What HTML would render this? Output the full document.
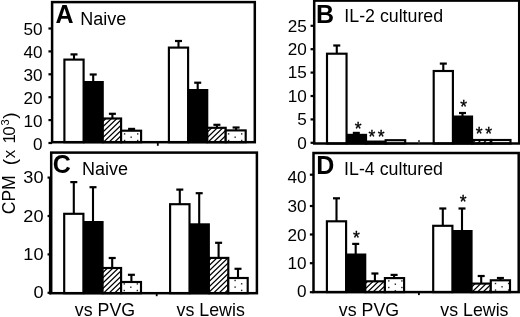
<!DOCTYPE html>
<html><head><meta charset="utf-8"><title>Figure</title>
<style>html,body{margin:0;padding:0;background:#fff;}body{width:520px;height:317px;overflow:hidden;font-family:"Liberation Sans", sans-serif;}svg{display:block;}</style>
</head><body>
<svg width="520" height="317" viewBox="0 0 520 317" font-family='"Liberation Sans", sans-serif' fill="#000">
<rect x="0.00" y="0.00" width="520.00" height="317.00" fill="#fff" />
<rect x="72.95" y="54.40" width="2.10" height="5.20" fill="#000" />
<rect x="70.50" y="53.30" width="7.00" height="2.20" fill="#000" />
<rect x="92.15" y="74.50" width="2.10" height="7.50" fill="#000" />
<rect x="89.70" y="73.40" width="7.00" height="2.20" fill="#000" />
<rect x="111.35" y="113.80" width="2.10" height="4.70" fill="#000" />
<rect x="108.90" y="112.70" width="7.00" height="2.20" fill="#000" />
<rect x="130.55" y="128.90" width="2.10" height="1.80" fill="#000" />
<rect x="128.10" y="127.80" width="7.00" height="2.20" fill="#000" />
<rect x="64.40" y="59.60" width="19.20" height="82.60" fill="#fff" stroke="#000" stroke-width="2.15"/>
<rect x="83.20" y="81.00" width="20.60" height="62.20" fill="#000"/>
<rect x="102.80" y="118.50" width="18.30" height="23.70" fill="#fff"/>
<clipPath id="c1"><rect x="102.80" y="118.50" width="18.30" height="23.70"/></clipPath>
<path d="M69.40 143.20L96.01 117.50M74.90 143.20L101.51 117.50M80.40 143.20L107.01 117.50M85.90 143.20L112.51 117.50M91.40 143.20L118.01 117.50M96.90 143.20L123.51 117.50M102.40 143.20L129.01 117.50M107.90 143.20L134.51 117.50M113.40 143.20L140.01 117.50M118.90 143.20L145.51 117.50" stroke="#000" stroke-width="1.25" fill="none" clip-path="url(#c1)"/>
<rect x="102.80" y="118.50" width="18.30" height="23.70" fill="none" stroke="#000" stroke-width="2.15"/>
<rect x="121.10" y="130.70" width="20.00" height="11.50" fill="#fff"/>
<rect x="123.90" y="133.20" width="1.4" height="1.4" fill="#222"/>
<rect x="123.90" y="139.80" width="1.4" height="1.4" fill="#222"/>
<rect x="137.00" y="133.20" width="1.4" height="1.4" fill="#222"/>
<rect x="137.00" y="139.80" width="1.4" height="1.4" fill="#222"/>
<rect x="130.45" y="136.50" width="1.4" height="1.4" fill="#222"/>
<rect x="121.10" y="130.70" width="20.00" height="11.50" fill="none" stroke="#000" stroke-width="2.15"/>
<rect x="177.45" y="41.00" width="2.10" height="6.60" fill="#000" />
<rect x="175.00" y="39.90" width="7.00" height="2.20" fill="#000" />
<rect x="196.65" y="82.70" width="2.10" height="7.30" fill="#000" />
<rect x="194.20" y="81.60" width="7.00" height="2.20" fill="#000" />
<rect x="215.85" y="124.80" width="2.10" height="3.00" fill="#000" />
<rect x="213.40" y="123.70" width="7.00" height="2.20" fill="#000" />
<rect x="235.05" y="127.50" width="2.10" height="2.90" fill="#000" />
<rect x="232.60" y="126.40" width="7.00" height="2.20" fill="#000" />
<rect x="168.90" y="47.60" width="19.20" height="94.60" fill="#fff" stroke="#000" stroke-width="2.15"/>
<rect x="187.70" y="89.00" width="20.60" height="54.20" fill="#000"/>
<rect x="207.30" y="127.80" width="18.40" height="14.40" fill="#fff"/>
<clipPath id="c2"><rect x="207.30" y="127.80" width="18.40" height="14.40"/></clipPath>
<path d="M179.40 143.20L196.38 126.80M184.90 143.20L201.88 126.80M190.40 143.20L207.38 126.80M195.90 143.20L212.88 126.80M201.40 143.20L218.38 126.80M206.90 143.20L223.88 126.80M212.40 143.20L229.38 126.80M217.90 143.20L234.88 126.80M223.40 143.20L240.38 126.80" stroke="#000" stroke-width="1.25" fill="none" clip-path="url(#c2)"/>
<rect x="207.30" y="127.80" width="18.40" height="14.40" fill="none" stroke="#000" stroke-width="2.15"/>
<rect x="225.70" y="130.40" width="20.00" height="11.80" fill="#fff"/>
<rect x="227.90" y="133.20" width="1.4" height="1.4" fill="#222"/>
<rect x="227.90" y="139.80" width="1.4" height="1.4" fill="#222"/>
<rect x="241.00" y="133.20" width="1.4" height="1.4" fill="#222"/>
<rect x="241.00" y="139.80" width="1.4" height="1.4" fill="#222"/>
<rect x="234.45" y="136.50" width="1.4" height="1.4" fill="#222"/>
<rect x="225.70" y="130.40" width="20.00" height="11.80" fill="none" stroke="#000" stroke-width="2.15"/>
<rect x="52.10" y="2.10" width="202.70" height="140.10" fill="none" stroke="#000" stroke-width="2.5"/>
<rect x="48.45" y="141.90" width="3.65" height="2.20" fill="#000" />
<text transform="translate(42.50,149.50) scale(1.04,1)" font-size="16.5" text-anchor="end">0</text>
<rect x="48.45" y="119.00" width="3.65" height="2.20" fill="#000" />
<text transform="translate(42.50,126.60) scale(1.04,1)" font-size="16.5" text-anchor="end">10</text>
<rect x="48.45" y="96.10" width="3.65" height="2.20" fill="#000" />
<text transform="translate(42.50,103.70) scale(1.04,1)" font-size="16.5" text-anchor="end">20</text>
<rect x="48.45" y="73.20" width="3.65" height="2.20" fill="#000" />
<text transform="translate(42.50,80.80) scale(1.04,1)" font-size="16.5" text-anchor="end">30</text>
<rect x="48.45" y="50.30" width="3.65" height="2.20" fill="#000" />
<text transform="translate(42.50,57.90) scale(1.04,1)" font-size="16.5" text-anchor="end">40</text>
<rect x="48.45" y="27.40" width="3.65" height="2.20" fill="#000" />
<text transform="translate(42.50,35.00) scale(1.04,1)" font-size="16.5" text-anchor="end">50</text>
<rect x="156.90" y="142.20" width="1.80" height="3.60" fill="#000" />
<text x="55.50" y="23.20" font-size="25" text-anchor="start" font-weight="bold" >A</text>
<text x="80.30" y="24.70" font-size="18" text-anchor="start" font-weight="normal" >Naive</text>
<rect x="72.75" y="182.10" width="2.10" height="31.70" fill="#000" />
<rect x="70.30" y="181.00" width="7.00" height="2.20" fill="#000" />
<rect x="91.95" y="187.20" width="2.10" height="34.80" fill="#000" />
<rect x="89.50" y="186.10" width="7.00" height="2.20" fill="#000" />
<rect x="111.15" y="258.00" width="2.10" height="10.00" fill="#000" />
<rect x="108.70" y="256.90" width="7.00" height="2.20" fill="#000" />
<rect x="130.35" y="274.80" width="2.10" height="7.20" fill="#000" />
<rect x="127.90" y="273.70" width="7.00" height="2.20" fill="#000" />
<rect x="64.20" y="213.80" width="19.20" height="79.40" fill="#fff" stroke="#000" stroke-width="2.15"/>
<rect x="83.00" y="221.00" width="20.60" height="73.20" fill="#000"/>
<rect x="102.60" y="268.00" width="18.50" height="25.20" fill="#fff"/>
<clipPath id="c3"><rect x="102.60" y="268.00" width="18.50" height="25.20"/></clipPath>
<path d="M63.90 294.20L92.07 267.00M69.40 294.20L97.57 267.00M74.90 294.20L103.07 267.00M80.40 294.20L108.57 267.00M85.90 294.20L114.07 267.00M91.40 294.20L119.57 267.00M96.90 294.20L125.07 267.00M102.40 294.20L130.57 267.00M107.90 294.20L136.07 267.00M113.40 294.20L141.57 267.00M118.90 294.20L147.07 267.00" stroke="#000" stroke-width="1.25" fill="none" clip-path="url(#c3)"/>
<rect x="102.60" y="268.00" width="18.50" height="25.20" fill="none" stroke="#000" stroke-width="2.15"/>
<rect x="121.10" y="282.00" width="19.90" height="11.20" fill="#fff"/>
<rect x="130.10" y="286.50" width="1.4" height="1.4" fill="#222"/>
<rect x="123.55" y="283.20" width="1.4" height="1.4" fill="#222"/>
<rect x="123.55" y="289.80" width="1.4" height="1.4" fill="#222"/>
<rect x="136.65" y="283.20" width="1.4" height="1.4" fill="#222"/>
<rect x="136.65" y="289.80" width="1.4" height="1.4" fill="#222"/>
<rect x="121.10" y="282.00" width="19.90" height="11.20" fill="none" stroke="#000" stroke-width="2.15"/>
<rect x="178.75" y="189.60" width="2.10" height="14.60" fill="#000" />
<rect x="176.30" y="188.50" width="7.00" height="2.20" fill="#000" />
<rect x="198.15" y="193.20" width="2.10" height="31.10" fill="#000" />
<rect x="195.70" y="192.10" width="7.00" height="2.20" fill="#000" />
<rect x="217.55" y="242.80" width="2.10" height="15.10" fill="#000" />
<rect x="215.10" y="241.70" width="7.00" height="2.20" fill="#000" />
<rect x="236.95" y="268.80" width="2.10" height="9.20" fill="#000" />
<rect x="234.50" y="267.70" width="7.00" height="2.20" fill="#000" />
<rect x="170.10" y="204.20" width="19.40" height="89.00" fill="#fff" stroke="#000" stroke-width="2.15"/>
<rect x="189.10" y="223.30" width="20.80" height="70.90" fill="#000"/>
<rect x="208.90" y="257.90" width="19.40" height="35.30" fill="#fff"/>
<clipPath id="c4"><rect x="208.90" y="257.90" width="19.40" height="35.30"/></clipPath>
<path d="M162.90 294.20L201.53 256.90M168.40 294.20L207.03 256.90M173.90 294.20L212.53 256.90M179.40 294.20L218.03 256.90M184.90 294.20L223.53 256.90M190.40 294.20L229.03 256.90M195.90 294.20L234.53 256.90M201.40 294.20L240.03 256.90M206.90 294.20L245.53 256.90M212.40 294.20L251.03 256.90M217.90 294.20L256.53 256.90M223.40 294.20L262.03 256.90M228.90 294.20L267.53 256.90" stroke="#000" stroke-width="1.25" fill="none" clip-path="url(#c4)"/>
<rect x="208.90" y="257.90" width="19.40" height="35.30" fill="none" stroke="#000" stroke-width="2.15"/>
<rect x="228.30" y="278.00" width="19.40" height="15.20" fill="#fff"/>
<rect x="234.40" y="279.80" width="1.4" height="1.4" fill="#222"/>
<rect x="234.40" y="286.40" width="1.4" height="1.4" fill="#222"/>
<rect x="240.95" y="283.10" width="1.4" height="1.4" fill="#222"/>
<rect x="240.95" y="289.70" width="1.4" height="1.4" fill="#222"/>
<rect x="228.30" y="278.00" width="19.40" height="15.20" fill="none" stroke="#000" stroke-width="2.15"/>
<rect x="51.20" y="152.60" width="205.70" height="140.60" fill="none" stroke="#000" stroke-width="2.5"/>
<rect x="47.55" y="291.70" width="3.65" height="2.20" fill="#000" />
<text transform="translate(43.50,298.40) scale(1.1,1)" font-size="16.5" text-anchor="end">0</text>
<rect x="47.55" y="253.30" width="3.65" height="2.20" fill="#000" />
<text transform="translate(43.50,260.00) scale(1.1,1)" font-size="16.5" text-anchor="end">10</text>
<rect x="47.55" y="214.90" width="3.65" height="2.20" fill="#000" />
<text transform="translate(43.50,221.60) scale(1.1,1)" font-size="16.5" text-anchor="end">20</text>
<rect x="47.55" y="176.50" width="3.65" height="2.20" fill="#000" />
<text transform="translate(43.50,183.20) scale(1.1,1)" font-size="16.5" text-anchor="end">30</text>
<rect x="48.90" y="177.00" width="2.30" height="117.45" fill="#000" />
<rect x="155.80" y="293.20" width="1.80" height="3.00" fill="#000" />
<text x="52.70" y="172.80" font-size="25" text-anchor="start" font-weight="bold" >C</text>
<text x="82.00" y="174.60" font-size="18" text-anchor="start" font-weight="normal" >Naive</text>
<rect x="335.72" y="45.50" width="2.10" height="8.20" fill="#000" />
<rect x="333.27" y="44.40" width="7.00" height="2.20" fill="#000" />
<rect x="355.27" y="132.90" width="2.10" height="1.90" fill="#000" />
<rect x="352.82" y="131.80" width="7.00" height="2.20" fill="#000" />
<rect x="327.00" y="53.70" width="19.55" height="89.80" fill="#fff" stroke="#000" stroke-width="2.15"/>
<rect x="346.15" y="133.80" width="20.95" height="10.70" fill="#000"/>
<rect x="366.10" y="141.60" width="19.55" height="1.90" fill="#fff"/>
<clipPath id="c5"><rect x="366.10" y="141.60" width="19.55" height="1.90"/></clipPath>
<path d="M355.40 144.50L359.44 140.60M360.90 144.50L364.94 140.60M366.40 144.50L370.44 140.60M371.90 144.50L375.94 140.60M377.40 144.50L381.44 140.60M382.90 144.50L386.94 140.60" stroke="#000" stroke-width="1.25" fill="none" clip-path="url(#c5)"/>
<rect x="366.10" y="141.60" width="19.55" height="1.90" fill="none" stroke="#000" stroke-width="2.15"/>
<rect x="385.65" y="140.20" width="19.55" height="3.30" fill="#fff"/>
<rect x="385.65" y="140.20" width="19.55" height="3.30" fill="none" stroke="#000" stroke-width="2.15"/>
<rect x="442.25" y="63.60" width="2.10" height="7.40" fill="#000" />
<rect x="439.80" y="62.50" width="7.00" height="2.20" fill="#000" />
<rect x="461.45" y="113.00" width="2.10" height="3.50" fill="#000" />
<rect x="459.00" y="111.90" width="7.00" height="2.20" fill="#000" />
<rect x="433.70" y="71.00" width="19.20" height="72.50" fill="#fff" stroke="#000" stroke-width="2.15"/>
<rect x="452.50" y="115.50" width="20.60" height="29.00" fill="#000"/>
<rect x="472.10" y="140.00" width="19.20" height="3.50" fill="#fff"/>
<clipPath id="c6"><rect x="472.10" y="140.00" width="19.20" height="3.50"/></clipPath>
<path d="M459.90 144.50L465.60 139.00M465.40 144.50L471.10 139.00M470.90 144.50L476.60 139.00M476.40 144.50L482.10 139.00M481.90 144.50L487.60 139.00M487.40 144.50L493.10 139.00" stroke="#000" stroke-width="1.25" fill="none" clip-path="url(#c6)"/>
<rect x="472.10" y="140.00" width="19.20" height="3.50" fill="none" stroke="#000" stroke-width="2.15"/>
<rect x="491.30" y="140.00" width="19.20" height="3.50" fill="#fff"/>
<rect x="491.30" y="140.00" width="19.20" height="3.50" fill="none" stroke="#000" stroke-width="2.15"/>
<rect x="314.20" y="0.60" width="205.00" height="142.90" fill="none" stroke="#000" stroke-width="2.5"/>
<rect x="310.55" y="141.70" width="3.65" height="2.20" fill="#000" />
<text transform="translate(306.90,148.60) scale(1.04,1)" font-size="16.5" text-anchor="end">0</text>
<rect x="310.55" y="118.30" width="3.65" height="2.20" fill="#000" />
<text transform="translate(306.90,125.20) scale(1.04,1)" font-size="16.5" text-anchor="end">5</text>
<rect x="310.55" y="94.90" width="3.65" height="2.20" fill="#000" />
<text transform="translate(306.90,101.80) scale(1.04,1)" font-size="16.5" text-anchor="end">10</text>
<rect x="310.55" y="71.50" width="3.65" height="2.20" fill="#000" />
<text transform="translate(306.90,78.40) scale(1.04,1)" font-size="16.5" text-anchor="end">15</text>
<rect x="310.55" y="48.10" width="3.65" height="2.20" fill="#000" />
<text transform="translate(306.90,55.00) scale(1.04,1)" font-size="16.5" text-anchor="end">20</text>
<rect x="310.55" y="24.70" width="3.65" height="2.20" fill="#000" />
<text transform="translate(306.90,31.60) scale(1.04,1)" font-size="16.5" text-anchor="end">25</text>
<rect x="418.10" y="140.10" width="1.80" height="3.40" fill="#444" />
<text x="316.10" y="22.50" font-size="25" text-anchor="start" font-weight="bold" >B</text>
<text x="344.30" y="22.20" font-size="17.8" text-anchor="start" font-weight="normal" >IL-2 cultured</text>
<text x="358.20" y="135.00" font-size="17.5" text-anchor="middle" font-weight="normal" stroke="#000" stroke-width="0.35">*</text>
<text x="372.00" y="143.10" font-size="17.5" text-anchor="middle" font-weight="normal" stroke="#000" stroke-width="0.35">*</text>
<text x="381.10" y="143.10" font-size="17.5" text-anchor="middle" font-weight="normal" stroke="#000" stroke-width="0.35">*</text>
<text x="463.70" y="112.90" font-size="17.5" text-anchor="middle" font-weight="normal" stroke="#000" stroke-width="0.35">*</text>
<text x="479.10" y="139.90" font-size="17.5" text-anchor="middle" font-weight="normal" stroke="#000" stroke-width="0.35">*</text>
<text x="488.60" y="139.90" font-size="17.5" text-anchor="middle" font-weight="normal" stroke="#000" stroke-width="0.35">*</text>
<rect x="335.45" y="198.30" width="2.10" height="23.00" fill="#000" />
<rect x="333.00" y="197.20" width="7.00" height="2.20" fill="#000" />
<rect x="354.65" y="243.90" width="2.10" height="10.60" fill="#000" />
<rect x="352.20" y="242.80" width="7.00" height="2.20" fill="#000" />
<rect x="373.85" y="273.50" width="2.10" height="7.80" fill="#000" />
<rect x="371.40" y="272.40" width="7.00" height="2.20" fill="#000" />
<rect x="393.05" y="274.90" width="2.10" height="3.20" fill="#000" />
<rect x="390.60" y="273.80" width="7.00" height="2.20" fill="#000" />
<rect x="326.90" y="221.30" width="19.20" height="70.80" fill="#fff" stroke="#000" stroke-width="2.15"/>
<rect x="345.70" y="253.50" width="20.60" height="39.60" fill="#000"/>
<rect x="365.30" y="281.30" width="19.60" height="10.80" fill="#fff"/>
<clipPath id="c7"><rect x="365.30" y="281.30" width="19.60" height="10.80"/></clipPath>
<path d="M344.40 293.10L357.65 280.30M349.90 293.10L363.15 280.30M355.40 293.10L368.65 280.30M360.90 293.10L374.15 280.30M366.40 293.10L379.65 280.30M371.90 293.10L385.15 280.30M377.40 293.10L390.65 280.30M382.90 293.10L396.15 280.30" stroke="#000" stroke-width="1.25" fill="none" clip-path="url(#c7)"/>
<rect x="365.30" y="281.30" width="19.60" height="10.80" fill="none" stroke="#000" stroke-width="2.15"/>
<rect x="384.90" y="278.10" width="19.20" height="14.00" fill="#fff"/>
<rect x="388.10" y="280.20" width="1.4" height="1.4" fill="#222"/>
<rect x="388.10" y="286.80" width="1.4" height="1.4" fill="#222"/>
<rect x="401.20" y="280.20" width="1.4" height="1.4" fill="#222"/>
<rect x="401.20" y="286.80" width="1.4" height="1.4" fill="#222"/>
<rect x="394.65" y="283.50" width="1.4" height="1.4" fill="#222"/>
<rect x="394.65" y="290.10" width="1.4" height="1.4" fill="#222"/>
<rect x="384.90" y="278.10" width="19.20" height="14.00" fill="none" stroke="#000" stroke-width="2.15"/>
<rect x="441.75" y="208.50" width="2.10" height="17.30" fill="#000" />
<rect x="439.30" y="207.40" width="7.00" height="2.20" fill="#000" />
<rect x="460.95" y="208.50" width="2.10" height="22.50" fill="#000" />
<rect x="458.50" y="207.40" width="7.00" height="2.20" fill="#000" />
<rect x="480.15" y="276.00" width="2.10" height="7.60" fill="#000" />
<rect x="477.70" y="274.90" width="7.00" height="2.20" fill="#000" />
<rect x="499.35" y="278.00" width="2.10" height="2.30" fill="#000" />
<rect x="496.90" y="276.90" width="7.00" height="2.20" fill="#000" />
<rect x="433.20" y="225.80" width="19.20" height="66.30" fill="#fff" stroke="#000" stroke-width="2.15"/>
<rect x="452.00" y="230.00" width="20.60" height="63.10" fill="#000"/>
<rect x="471.60" y="283.60" width="19.20" height="8.50" fill="#fff"/>
<clipPath id="c8"><rect x="471.60" y="283.60" width="19.20" height="8.50"/></clipPath>
<path d="M454.40 293.10L465.27 282.60M459.90 293.10L470.77 282.60M465.40 293.10L476.27 282.60M470.90 293.10L481.77 282.60M476.40 293.10L487.27 282.60M481.90 293.10L492.77 282.60M487.40 293.10L498.27 282.60" stroke="#000" stroke-width="1.25" fill="none" clip-path="url(#c8)"/>
<rect x="471.60" y="283.60" width="19.20" height="8.50" fill="none" stroke="#000" stroke-width="2.15"/>
<rect x="490.80" y="280.30" width="19.20" height="11.80" fill="#fff"/>
<rect x="494.80" y="282.80" width="1.4" height="1.4" fill="#222"/>
<rect x="494.80" y="289.40" width="1.4" height="1.4" fill="#222"/>
<rect x="507.90" y="282.80" width="1.4" height="1.4" fill="#222"/>
<rect x="507.90" y="289.40" width="1.4" height="1.4" fill="#222"/>
<rect x="501.35" y="286.10" width="1.4" height="1.4" fill="#222"/>
<rect x="490.80" y="280.30" width="19.20" height="11.80" fill="none" stroke="#000" stroke-width="2.15"/>
<rect x="313.50" y="153.00" width="205.20" height="139.10" fill="none" stroke="#000" stroke-width="2.5"/>
<rect x="309.85" y="291.10" width="3.65" height="2.20" fill="#000" />
<text transform="translate(306.60,296.50) scale(1.04,1)" font-size="16.5" text-anchor="end">0</text>
<rect x="309.85" y="262.10" width="3.65" height="2.20" fill="#000" />
<text transform="translate(306.60,269.20) scale(1.04,1)" font-size="16.5" text-anchor="end">10</text>
<rect x="309.85" y="233.40" width="3.65" height="2.20" fill="#000" />
<text transform="translate(306.60,240.90) scale(1.04,1)" font-size="16.5" text-anchor="end">20</text>
<rect x="309.85" y="204.90" width="3.65" height="2.20" fill="#000" />
<text transform="translate(306.60,211.90) scale(1.04,1)" font-size="16.5" text-anchor="end">30</text>
<rect x="309.85" y="173.60" width="3.65" height="2.20" fill="#000" />
<text transform="translate(306.60,183.40) scale(1.04,1)" font-size="16.5" text-anchor="end">40</text>
<rect x="418.00" y="292.10" width="1.80" height="3.00" fill="#000" />
<text x="316.30" y="173.60" font-size="25" text-anchor="start" font-weight="bold" >D</text>
<text x="344.10" y="175.00" font-size="17.8" text-anchor="start" font-weight="normal" >IL-4 cultured</text>
<text x="356.50" y="243.80" font-size="17.5" text-anchor="middle" font-weight="normal" stroke="#000" stroke-width="0.35">*</text>
<text x="463.10" y="208.00" font-size="17.5" text-anchor="middle" font-weight="normal" stroke="#000" stroke-width="0.35">*</text>
<text transform="translate(15.00,214.20) rotate(-90)" font-size="17.5">CPM</text>
<text transform="translate(15.60,165.30) rotate(-90)" font-size="19">(</text>
<text transform="translate(14.60,158.20) rotate(-90)" font-size="17">x</text>
<text transform="translate(14.80,143.60) rotate(-90)" font-size="17">1</text>
<text transform="translate(14.80,135.70) rotate(-90)" font-size="17">0</text>
<text transform="translate(9.00,125.60) rotate(-90)" font-size="11">3</text>
<text transform="translate(15.60,118.70) rotate(-90)" font-size="19">)</text>
<text x="105.00" y="316.40" font-size="17.8" text-anchor="middle" font-weight="normal" >vs PVG</text>
<text x="210.70" y="316.40" font-size="17.8" text-anchor="middle" font-weight="normal" >vs Lewis</text>
<text x="369.00" y="315.90" font-size="17.8" text-anchor="middle" font-weight="normal" >vs PVG</text>
<text x="474.40" y="316.40" font-size="17.8" text-anchor="middle" font-weight="normal" >vs Lewis</text>
</svg>
</body></html>
